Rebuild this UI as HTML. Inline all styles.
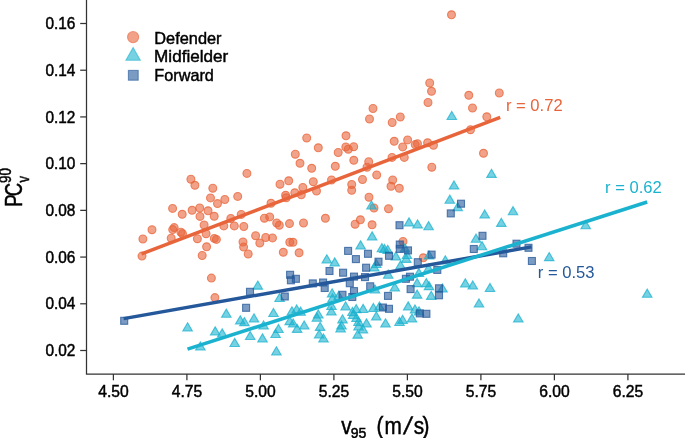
<!DOCTYPE html>
<html><head><meta charset="utf-8"><style>
html,body{margin:0;padding:0;background:#fff;}
svg{display:block;will-change:transform;}
</style></head><body>
<svg width="685" height="438" viewBox="0 0 685 438">
<rect width="685" height="438" fill="#fff"/>
<g fill="#E8643A" fill-opacity="0.6" stroke="#E8643A" stroke-opacity="0.75" stroke-width="1.1">
<circle cx="451.5" cy="14.8" r="3.95"/>
<circle cx="429.7" cy="83.0" r="3.95"/>
<circle cx="431.5" cy="91.3" r="3.95"/>
<circle cx="428.0" cy="102.5" r="3.95"/>
<circle cx="468.8" cy="95.3" r="3.95"/>
<circle cx="472.5" cy="108.0" r="3.95"/>
<circle cx="499.3" cy="93.0" r="3.95"/>
<circle cx="400.3" cy="117.0" r="3.95"/>
<circle cx="392.2" cy="122.5" r="3.95"/>
<circle cx="486.8" cy="116.8" r="3.95"/>
<circle cx="470.5" cy="129.7" r="3.95"/>
<circle cx="394.2" cy="141.3" r="3.95"/>
<circle cx="407.6" cy="139.9" r="3.95"/>
<circle cx="415.2" cy="144.6" r="3.95"/>
<circle cx="417.5" cy="143.7" r="3.95"/>
<circle cx="427.6" cy="142.8" r="3.95"/>
<circle cx="373.0" cy="108.5" r="3.95"/>
<circle cx="369.5" cy="119.0" r="3.95"/>
<circle cx="346.0" cy="135.8" r="3.95"/>
<circle cx="306.7" cy="138.0" r="3.95"/>
<circle cx="318.3" cy="147.8" r="3.95"/>
<circle cx="295.3" cy="154.2" r="3.95"/>
<circle cx="338.2" cy="152.5" r="3.95"/>
<circle cx="345.8" cy="147.0" r="3.95"/>
<circle cx="348.3" cy="149.2" r="3.95"/>
<circle cx="353.7" cy="146.7" r="3.95"/>
<circle cx="300.0" cy="163.3" r="3.95"/>
<circle cx="311.7" cy="168.3" r="3.95"/>
<circle cx="335.3" cy="166.3" r="3.95"/>
<circle cx="353.8" cy="160.3" r="3.95"/>
<circle cx="368.7" cy="161.7" r="3.95"/>
<circle cx="367.0" cy="167.2" r="3.95"/>
<circle cx="376.7" cy="175.0" r="3.95"/>
<circle cx="362.5" cy="179.5" r="3.95"/>
<circle cx="351.7" cy="184.5" r="3.95"/>
<circle cx="351.7" cy="190.3" r="3.95"/>
<circle cx="331.5" cy="180.0" r="3.95"/>
<circle cx="313.3" cy="181.7" r="3.95"/>
<circle cx="316.5" cy="191.0" r="3.95"/>
<circle cx="302.8" cy="187.5" r="3.95"/>
<circle cx="301.3" cy="194.8" r="3.95"/>
<circle cx="294.8" cy="192.8" r="3.95"/>
<circle cx="280.0" cy="184.2" r="3.95"/>
<circle cx="288.7" cy="180.8" r="3.95"/>
<circle cx="286.2" cy="197.8" r="3.95"/>
<circle cx="369.0" cy="197.2" r="3.95"/>
<circle cx="374.0" cy="208.0" r="3.95"/>
<circle cx="402.7" cy="146.9" r="3.95"/>
<circle cx="433.5" cy="145.3" r="3.95"/>
<circle cx="392.0" cy="157.4" r="3.95"/>
<circle cx="404.3" cy="157.4" r="3.95"/>
<circle cx="483.5" cy="153.3" r="3.95"/>
<circle cx="431.8" cy="167.2" r="3.95"/>
<circle cx="392.7" cy="180.0" r="3.95"/>
<circle cx="391.0" cy="186.3" r="3.95"/>
<circle cx="399.3" cy="188.3" r="3.95"/>
<circle cx="388.5" cy="208.7" r="3.95"/>
<circle cx="403.0" cy="241.5" r="3.95"/>
<circle cx="423.3" cy="257.8" r="3.95"/>
<circle cx="360.4" cy="219.8" r="3.95"/>
<circle cx="355.1" cy="224.2" r="3.95"/>
<circle cx="372.1" cy="224.8" r="3.95"/>
<circle cx="325.4" cy="218.3" r="3.95"/>
<circle cx="289.5" cy="223.6" r="3.95"/>
<circle cx="303.5" cy="223.0" r="3.95"/>
<circle cx="289.8" cy="242.3" r="3.95"/>
<circle cx="293.0" cy="242.3" r="3.95"/>
<circle cx="283.3" cy="252.3" r="3.95"/>
<circle cx="299.1" cy="252.8" r="3.95"/>
<circle cx="214.9" cy="297.6" r="3.95"/>
<circle cx="246.9" cy="173.4" r="3.95"/>
<circle cx="190.9" cy="179.2" r="3.95"/>
<circle cx="194.9" cy="185.3" r="3.95"/>
<circle cx="212.8" cy="188.2" r="3.95"/>
<circle cx="237.7" cy="196.4" r="3.95"/>
<circle cx="210.5" cy="197.9" r="3.95"/>
<circle cx="217.5" cy="203.6" r="3.95"/>
<circle cx="224.8" cy="199.5" r="3.95"/>
<circle cx="199.7" cy="208.0" r="3.95"/>
<circle cx="192.1" cy="210.3" r="3.95"/>
<circle cx="208.0" cy="210.8" r="3.95"/>
<circle cx="182.2" cy="214.3" r="3.95"/>
<circle cx="200.0" cy="216.4" r="3.95"/>
<circle cx="214.2" cy="216.3" r="3.95"/>
<circle cx="204.1" cy="225.0" r="3.95"/>
<circle cx="230.8" cy="218.5" r="3.95"/>
<circle cx="234.3" cy="225.9" r="3.95"/>
<circle cx="223.8" cy="225.9" r="3.95"/>
<circle cx="271.0" cy="203.3" r="3.95"/>
<circle cx="241.2" cy="214.4" r="3.95"/>
<circle cx="264.4" cy="218.2" r="3.95"/>
<circle cx="269.7" cy="216.9" r="3.95"/>
<circle cx="276.7" cy="223.0" r="3.95"/>
<circle cx="279.3" cy="225.2" r="3.95"/>
<circle cx="243.8" cy="226.5" r="3.95"/>
<circle cx="255.6" cy="235.7" r="3.95"/>
<circle cx="265.7" cy="237.5" r="3.95"/>
<circle cx="272.5" cy="237.9" r="3.95"/>
<circle cx="259.8" cy="243.1" r="3.95"/>
<circle cx="243.0" cy="242.0" r="3.95"/>
<circle cx="243.6" cy="247.1" r="3.95"/>
<circle cx="248.2" cy="254.0" r="3.95"/>
<circle cx="172.7" cy="229.6" r="3.95"/>
<circle cx="174.2" cy="227.6" r="3.95"/>
<circle cx="180.9" cy="232.2" r="3.95"/>
<circle cx="182.5" cy="233.7" r="3.95"/>
<circle cx="171.2" cy="238.2" r="3.95"/>
<circle cx="197.4" cy="238.7" r="3.95"/>
<circle cx="206.1" cy="233.7" r="3.95"/>
<circle cx="214.3" cy="238.4" r="3.95"/>
<circle cx="216.4" cy="239.4" r="3.95"/>
<circle cx="206.6" cy="246.8" r="3.95"/>
<circle cx="202.2" cy="255.5" r="3.95"/>
<circle cx="172.6" cy="208.4" r="3.95"/>
<circle cx="152.0" cy="229.7" r="3.95"/>
<circle cx="142.9" cy="239.0" r="3.95"/>
<circle cx="142.0" cy="256.1" r="3.95"/>
<circle cx="211.4" cy="278.1" r="3.95"/>
<circle cx="285.6" cy="195.3" r="3.95"/>
</g>
<g fill="#1BB2CF" fill-opacity="0.6" stroke="#1BB2CF" stroke-opacity="0.75" stroke-width="1.1" stroke-linejoin="miter">
<path d="M451.80 111.45L456.55 119.55L447.05 119.55Z"/>
<path d="M371.50 200.95L376.25 209.05L366.75 209.05Z"/>
<path d="M454.00 180.95L458.75 189.05L449.25 189.05Z"/>
<path d="M491.50 169.25L496.25 177.35L486.75 177.35Z"/>
<path d="M449.80 195.15L454.55 203.25L445.05 203.25Z"/>
<path d="M457.70 202.65L462.45 210.75L452.95 210.75Z"/>
<path d="M513.00 206.65L517.75 214.75L508.25 214.75Z"/>
<path d="M585.70 220.65L590.45 228.75L580.95 228.75Z"/>
<path d="M647.20 289.15L651.95 297.25L642.45 297.25Z"/>
<path d="M484.70 209.95L489.45 218.05L479.95 218.05Z"/>
<path d="M501.30 218.25L506.05 226.35L496.55 226.35Z"/>
<path d="M549.20 252.55L553.95 260.65L544.45 260.65Z"/>
<path d="M482.00 241.65L486.75 249.75L477.25 249.75Z"/>
<path d="M490.00 283.45L494.75 291.55L485.25 291.55Z"/>
<path d="M518.30 313.95L523.05 322.05L513.55 322.05Z"/>
<path d="M409.00 217.85L413.75 225.95L404.25 225.95Z"/>
<path d="M417.60 219.95L422.35 228.05L412.85 228.05Z"/>
<path d="M428.60 221.65L433.35 229.75L423.85 229.75Z"/>
<path d="M476.00 234.15L480.75 242.25L471.25 242.25Z"/>
<path d="M395.90 251.75L400.65 259.85L391.15 259.85Z"/>
<path d="M406.20 254.25L410.95 262.35L401.45 262.35Z"/>
<path d="M404.90 243.75L409.65 251.85L400.15 251.85Z"/>
<path d="M400.50 260.75L405.25 268.85L395.75 268.85Z"/>
<path d="M429.00 250.95L433.75 259.05L424.25 259.05Z"/>
<path d="M445.30 255.75L450.05 263.85L440.55 263.85Z"/>
<path d="M418.90 268.45L423.65 276.55L414.15 276.55Z"/>
<path d="M428.50 263.95L433.25 272.05L423.75 272.05Z"/>
<path d="M394.80 282.95L399.55 291.05L390.05 291.05Z"/>
<path d="M417.10 278.55L421.85 286.65L412.35 286.65Z"/>
<path d="M417.10 290.05L421.85 298.15L412.35 298.15Z"/>
<path d="M426.30 278.55L431.05 286.65L421.55 286.65Z"/>
<path d="M429.00 281.55L433.75 289.65L424.25 289.65Z"/>
<path d="M431.20 291.25L435.95 299.35L426.45 299.35Z"/>
<path d="M442.50 283.95L447.25 292.05L437.75 292.05Z"/>
<path d="M479.00 298.95L483.75 307.05L474.25 307.05Z"/>
<path d="M372.10 231.85L376.85 239.95L367.35 239.95Z"/>
<path d="M360.60 240.85L365.35 248.95L355.85 248.95Z"/>
<path d="M381.90 243.65L386.65 251.75L377.15 251.75Z"/>
<path d="M387.70 245.25L392.45 253.35L382.95 253.35Z"/>
<path d="M376.30 259.45L381.05 267.55L371.55 267.55Z"/>
<path d="M388.20 270.15L392.95 278.25L383.45 278.25Z"/>
<path d="M375.00 284.95L379.75 293.05L370.25 293.05Z"/>
<path d="M331.40 306.95L336.15 315.05L326.65 315.05Z"/>
<path d="M345.60 301.75L350.35 309.85L340.85 309.85Z"/>
<path d="M356.20 304.55L360.95 312.65L351.45 312.65Z"/>
<path d="M363.10 304.35L367.85 312.45L358.35 312.45Z"/>
<path d="M373.40 303.45L378.15 311.55L368.65 311.55Z"/>
<path d="M379.50 301.95L384.25 310.05L374.75 310.05Z"/>
<path d="M353.20 310.35L357.95 318.45L348.45 318.45Z"/>
<path d="M356.50 313.45L361.25 321.55L351.75 321.55Z"/>
<path d="M342.50 314.75L347.25 322.85L337.75 322.85Z"/>
<path d="M340.60 323.95L345.35 332.05L335.85 332.05Z"/>
<path d="M366.50 318.85L371.25 326.95L361.75 326.95Z"/>
<path d="M376.30 311.75L381.05 319.85L371.55 319.85Z"/>
<path d="M358.50 321.75L363.25 329.85L353.75 329.85Z"/>
<path d="M362.90 324.75L367.65 332.85L358.15 332.85Z"/>
<path d="M357.70 330.05L362.45 338.15L352.95 338.15Z"/>
<path d="M323.50 333.95L328.25 342.05L318.75 342.05Z"/>
<path d="M385.50 318.75L390.25 326.85L380.75 326.85Z"/>
<path d="M399.50 317.45L404.25 325.55L394.75 325.55Z"/>
<path d="M408.20 301.85L412.95 309.95L403.45 309.95Z"/>
<path d="M415.00 304.95L419.75 313.05L410.25 313.05Z"/>
<path d="M419.00 306.75L423.75 314.85L414.25 314.85Z"/>
<path d="M402.60 315.25L407.35 323.35L397.85 323.35Z"/>
<path d="M412.00 313.95L416.75 322.05L407.25 322.05Z"/>
<path d="M326.80 254.75L331.55 262.85L322.05 262.85Z"/>
<path d="M334.70 257.85L339.45 265.95L329.95 265.95Z"/>
<path d="M332.10 288.75L336.85 296.85L327.35 296.85Z"/>
<path d="M332.50 293.75L337.25 301.85L327.75 301.85Z"/>
<path d="M338.70 291.45L343.45 299.55L333.95 299.55Z"/>
<path d="M279.60 293.45L284.35 301.55L274.85 301.55Z"/>
<path d="M273.50 308.45L278.25 316.55L268.75 316.55Z"/>
<path d="M291.90 306.75L296.65 314.85L287.15 314.85Z"/>
<path d="M296.70 304.95L301.45 313.05L291.95 313.05Z"/>
<path d="M300.60 307.15L305.35 315.25L295.85 315.25Z"/>
<path d="M318.30 309.95L323.05 318.05L313.55 318.05Z"/>
<path d="M316.90 313.15L321.65 321.25L312.15 321.25Z"/>
<path d="M289.70 316.55L294.45 324.65L284.95 324.65Z"/>
<path d="M293.20 318.95L297.95 327.05L288.45 327.05Z"/>
<path d="M304.20 320.95L308.95 329.05L299.45 329.05Z"/>
<path d="M297.10 324.25L301.85 332.35L292.35 332.35Z"/>
<path d="M278.50 324.45L283.25 332.55L273.75 332.55Z"/>
<path d="M275.60 329.45L280.35 337.55L270.85 337.55Z"/>
<path d="M320.10 322.25L324.85 330.35L315.35 330.35Z"/>
<path d="M319.20 329.95L323.95 338.05L314.45 338.05Z"/>
<path d="M226.30 309.15L231.05 317.25L221.55 317.25Z"/>
<path d="M240.30 315.75L245.05 323.85L235.55 323.85Z"/>
<path d="M244.40 317.55L249.15 325.65L239.65 325.65Z"/>
<path d="M254.00 313.75L258.75 321.85L249.25 321.85Z"/>
<path d="M263.60 320.95L268.35 329.05L258.85 329.05Z"/>
<path d="M215.20 326.85L219.95 334.95L210.45 334.95Z"/>
<path d="M222.20 328.85L226.95 336.95L217.45 336.95Z"/>
<path d="M250.20 331.45L254.95 339.55L245.45 339.55Z"/>
<path d="M262.50 333.85L267.25 341.95L257.75 341.95Z"/>
<path d="M187.60 322.75L192.35 330.85L182.85 330.85Z"/>
<path d="M200.40 341.95L205.15 350.05L195.65 350.05Z"/>
<path d="M234.70 338.35L239.45 346.45L229.95 346.45Z"/>
<path d="M276.40 346.75L281.15 354.85L271.65 354.85Z"/>
<path d="M257.80 281.05L262.55 289.15L253.05 289.15Z"/>
<path d="M465.30 278.85L470.05 286.95L460.55 286.95Z"/>
<path d="M472.80 280.95L477.55 289.05L468.05 289.05Z"/>
<path d="M374.30 262.95L379.05 271.05L369.55 271.05Z"/>
<path d="M407.00 250.45L411.75 258.55L402.25 258.55Z"/>
<path d="M352.50 307.45L357.25 315.55L347.75 315.55Z"/>
<path d="M341.50 320.95L346.25 329.05L336.75 329.05Z"/>
<path d="M358.50 317.45L363.25 325.55L353.75 325.55Z"/>
<path d="M384.50 244.45L389.25 252.55L379.75 252.55Z"/>
<path d="M331.50 301.45L336.25 309.55L326.75 309.55Z"/>
</g>
<g fill="#24589A" fill-opacity="0.6" stroke="#24589A" stroke-opacity="0.75" stroke-width="1.1">
<rect x="457.50" y="200.20" width="7.0" height="7.0"/>
<rect x="479.00" y="232.30" width="7.0" height="7.0"/>
<rect x="513.00" y="240.20" width="7.0" height="7.0"/>
<rect x="499.70" y="249.80" width="7.0" height="7.0"/>
<rect x="525.00" y="244.30" width="7.0" height="7.0"/>
<rect x="528.40" y="257.50" width="7.0" height="7.0"/>
<rect x="447.30" y="209.90" width="7.0" height="7.0"/>
<rect x="470.30" y="245.50" width="7.0" height="7.0"/>
<rect x="396.30" y="241.00" width="7.0" height="7.0"/>
<rect x="396.30" y="245.40" width="7.0" height="7.0"/>
<rect x="404.50" y="246.90" width="7.0" height="7.0"/>
<rect x="414.30" y="258.70" width="7.0" height="7.0"/>
<rect x="428.10" y="251.10" width="7.0" height="7.0"/>
<rect x="433.80" y="266.40" width="7.0" height="7.0"/>
<rect x="402.40" y="275.30" width="7.0" height="7.0"/>
<rect x="406.50" y="273.20" width="7.0" height="7.0"/>
<rect x="407.10" y="285.60" width="7.0" height="7.0"/>
<rect x="435.50" y="284.80" width="7.0" height="7.0"/>
<rect x="435.50" y="291.80" width="7.0" height="7.0"/>
<rect x="396.00" y="221.70" width="7.0" height="7.0"/>
<rect x="344.60" y="247.40" width="7.0" height="7.0"/>
<rect x="352.40" y="255.60" width="7.0" height="7.0"/>
<rect x="364.50" y="250.30" width="7.0" height="7.0"/>
<rect x="385.50" y="252.30" width="7.0" height="7.0"/>
<rect x="375.00" y="258.20" width="7.0" height="7.0"/>
<rect x="362.60" y="264.20" width="7.0" height="7.0"/>
<rect x="339.60" y="269.20" width="7.0" height="7.0"/>
<rect x="350.50" y="273.10" width="7.0" height="7.0"/>
<rect x="361.50" y="273.60" width="7.0" height="7.0"/>
<rect x="346.30" y="279.70" width="7.0" height="7.0"/>
<rect x="366.70" y="282.80" width="7.0" height="7.0"/>
<rect x="350.50" y="287.60" width="7.0" height="7.0"/>
<rect x="348.80" y="293.50" width="7.0" height="7.0"/>
<rect x="384.50" y="292.40" width="7.0" height="7.0"/>
<rect x="379.40" y="304.00" width="7.0" height="7.0"/>
<rect x="385.50" y="305.30" width="7.0" height="7.0"/>
<rect x="416.30" y="309.90" width="7.0" height="7.0"/>
<rect x="422.90" y="310.30" width="7.0" height="7.0"/>
<rect x="326.00" y="267.50" width="7.0" height="7.0"/>
<rect x="286.60" y="271.30" width="7.0" height="7.0"/>
<rect x="287.40" y="276.80" width="7.0" height="7.0"/>
<rect x="292.40" y="275.30" width="7.0" height="7.0"/>
<rect x="309.30" y="279.90" width="7.0" height="7.0"/>
<rect x="319.60" y="279.00" width="7.0" height="7.0"/>
<rect x="321.20" y="284.50" width="7.0" height="7.0"/>
<rect x="281.30" y="293.00" width="7.0" height="7.0"/>
<rect x="246.50" y="288.30" width="7.0" height="7.0"/>
<rect x="242.60" y="304.30" width="7.0" height="7.0"/>
<rect x="120.70" y="317.30" width="7.0" height="7.0"/>
<rect x="339.00" y="291.30" width="7.0" height="7.0"/>
</g>
<g stroke-width="3.5" stroke-linecap="butt" fill="none">
<line x1="141.6" y1="253.9" x2="500.2" y2="117.3" stroke="#E8643A"/>
<line x1="123.6" y1="318.6" x2="531.5" y2="246.9" stroke="#24589A"/>
<line x1="187.5" y1="349.1" x2="647.2" y2="202.0" stroke="#1BB2CF"/>
</g>
<g stroke="#333" stroke-width="1.25" fill="none">
<path d="M86.5 0V374.0H685"/>
<path d="M80.20 350.50H86.5"/>
<path d="M80.20 303.79H86.5"/>
<path d="M80.20 257.07H86.5"/>
<path d="M80.20 210.36H86.5"/>
<path d="M80.20 163.64H86.5"/>
<path d="M80.20 116.93H86.5"/>
<path d="M80.20 70.22H86.5"/>
<path d="M80.20 23.50H86.5"/>
<path d="M113.40 374.0V380.30"/>
<path d="M186.90 374.0V380.30"/>
<path d="M260.40 374.0V380.30"/>
<path d="M333.90 374.0V380.30"/>
<path d="M407.40 374.0V380.30"/>
<path d="M480.90 374.0V380.30"/>
<path d="M554.40 374.0V380.30"/>
<path d="M627.90 374.0V380.30"/>
</g>
<g font-family="Liberation Sans, sans-serif" font-size="17.4" fill="#000" stroke="#000" stroke-width="0.5">
<text x="75.4" y="356.20" text-anchor="end" textLength="30" lengthAdjust="spacingAndGlyphs">0.02</text>
<text x="75.4" y="309.49" text-anchor="end" textLength="30" lengthAdjust="spacingAndGlyphs">0.04</text>
<text x="75.4" y="262.77" text-anchor="end" textLength="30" lengthAdjust="spacingAndGlyphs">0.06</text>
<text x="75.4" y="216.06" text-anchor="end" textLength="30" lengthAdjust="spacingAndGlyphs">0.08</text>
<text x="75.4" y="169.34" text-anchor="end" textLength="30" lengthAdjust="spacingAndGlyphs">0.10</text>
<text x="75.4" y="122.63" text-anchor="end" textLength="30" lengthAdjust="spacingAndGlyphs">0.12</text>
<text x="75.4" y="75.92" text-anchor="end" textLength="30" lengthAdjust="spacingAndGlyphs">0.14</text>
<text x="75.4" y="29.20" text-anchor="end" textLength="30" lengthAdjust="spacingAndGlyphs">0.16</text>
<text x="98.20" y="397.3" textLength="30.5" lengthAdjust="spacingAndGlyphs">4.50</text>
<text x="171.70" y="397.3" textLength="30.5" lengthAdjust="spacingAndGlyphs">4.75</text>
<text x="245.20" y="397.3" textLength="30.5" lengthAdjust="spacingAndGlyphs">5.00</text>
<text x="318.70" y="397.3" textLength="30.5" lengthAdjust="spacingAndGlyphs">5.25</text>
<text x="392.20" y="397.3" textLength="30.5" lengthAdjust="spacingAndGlyphs">5.50</text>
<text x="465.70" y="397.3" textLength="30.5" lengthAdjust="spacingAndGlyphs">5.75</text>
<text x="539.20" y="397.3" textLength="30.5" lengthAdjust="spacingAndGlyphs">6.00</text>
<text x="612.70" y="397.3" textLength="30.5" lengthAdjust="spacingAndGlyphs">6.25</text>
</g>
<g font-family="Liberation Sans, sans-serif" font-size="16.6">
<text x="505.9" y="110.8" fill="#E8643A">r = 0.72</text>
<text x="605" y="192.5" fill="#1BB2CF">r = 0.62</text>
<text x="537.8" y="278.2" fill="#24589A">r = 0.53</text>
</g>
<g stroke-width="1.1">
<circle cx="133.1" cy="37.1" r="5.6" fill="#E8643A" fill-opacity="0.6" stroke="#E8643A" stroke-opacity="0.6"/>
<path d="M133.1 47.6L140.3 60.2L125.9 60.2Z" fill="#1BB2CF" fill-opacity="0.6" stroke="#1BB2CF" stroke-opacity="0.6"/>
<rect x="128.4" y="70.4" width="9.8" height="9.8" fill="#24589A" fill-opacity="0.6" stroke="#24589A" stroke-opacity="0.6"/>
</g>
<g font-family="Liberation Sans, sans-serif" font-size="17" fill="#000" stroke="#000" stroke-width="0.45">
<text x="154.3" y="43.5" textLength="67.2" lengthAdjust="spacingAndGlyphs">Defender</text>
<text x="154.1" y="62.3" textLength="74.2" lengthAdjust="spacingAndGlyphs">Midfielder</text>
<text x="154.3" y="81.2" textLength="59.6" lengthAdjust="spacingAndGlyphs">Forward</text>
</g>
<g font-family="Liberation Sans, sans-serif" fill="#000" stroke="#000" stroke-width="0.5">
<text transform="translate(341.20 434.20) scale(0.86 1)" font-size="24.2">v</text>
<text transform="translate(350.70 438.00) scale(1.0 1)" font-size="14.0">9</text>
<text transform="translate(358.50 438.00) scale(1.0 1)" font-size="14.0">5</text>
<text transform="translate(376.40 434.20) scale(0.86 1)" font-size="24.2">(</text>
<text transform="translate(384.60 434.20) scale(0.86 1)" font-size="24.2">m</text>
<text transform="translate(403.0 434.2) skewX(-11)" font-size="24.2">/</text>
<text transform="translate(413.80 434.20) scale(0.86 1)" font-size="24.2">s</text>
<text transform="translate(422.60 434.20) scale(0.86 1)" font-size="24.2">)</text>
</g>
<g font-family="Liberation Sans, sans-serif" fill="#000" stroke="#000" stroke-width="0.5">
<text transform="translate(22.2 205.6) rotate(-90) scale(0.8 1)" x="-1.5" y="0" font-size="23.2">P</text>
<text transform="translate(22.2 195.2) rotate(-90) scale(0.8 1)" x="-1.2" y="0" font-size="23.2">C</text>
<text transform="translate(11.4 182.9) rotate(-90) scale(0.82 1)" x="0" y="0" font-size="16.4">90</text>
<text transform="translate(28.8 182.6) rotate(-90) scale(0.8 1)" x="0" y="0" font-size="16">v</text>
</g>
</svg>
</body></html>
